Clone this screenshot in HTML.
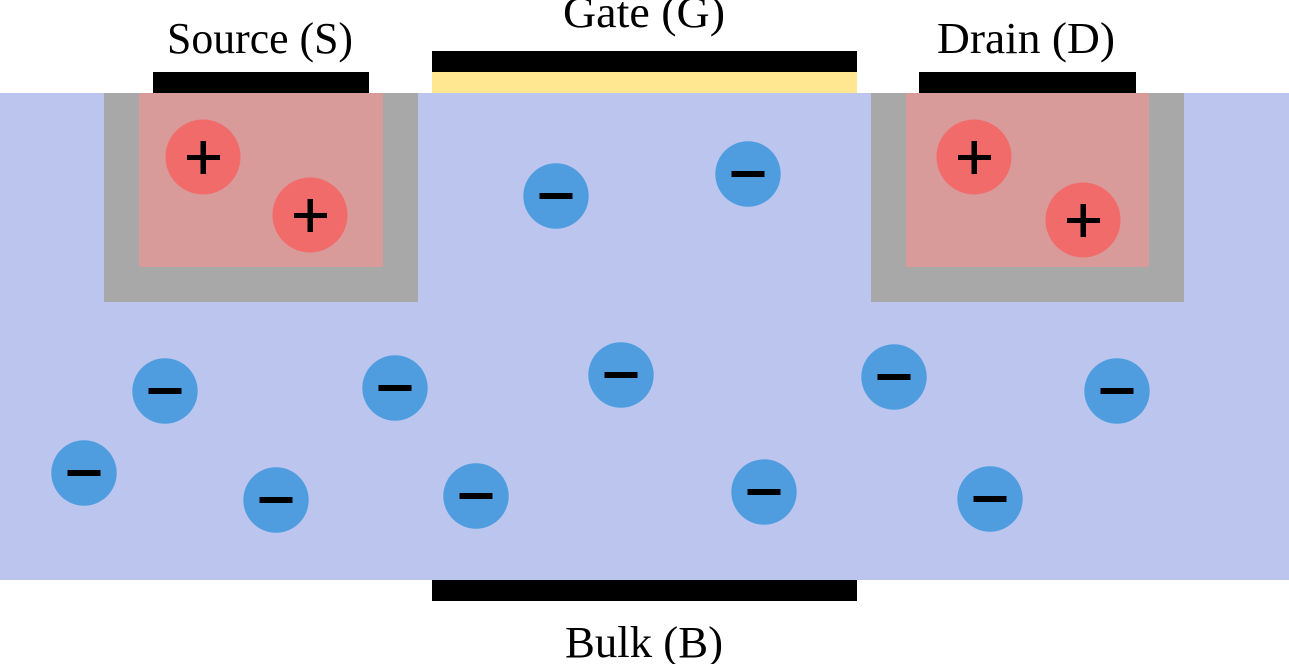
<!DOCTYPE html>
<html>
<head>
<meta charset="utf-8">
<style>
  html, body { margin: 0; padding: 0; background: #ffffff; }
  body { width: 1289px; height: 664px; overflow: hidden; }
  svg { display: block; }
  text { font-family: "Liberation Serif", serif; fill: #000; }
</style>
</head>
<body>
<svg width="1289" height="664" viewBox="0 0 1289 664" xmlns="http://www.w3.org/2000/svg">
  <!-- substrate -->
  <rect x="0" y="93" width="1289" height="487" fill="#bbc5ee"/>

  <!-- gate -->
  <rect x="432" y="51" width="425" height="21" fill="#000"/>
  <rect x="432" y="72" width="425" height="21" fill="#ffe792"/>

  <!-- bulk contact -->
  <rect x="432" y="580" width="425" height="21" fill="#000"/>

  <!-- source -->
  <rect x="104" y="93" width="314" height="209" fill="#a8a8a8"/>
  <rect x="139" y="93" width="244" height="174" fill="#d99a9a"/>
  <rect x="153" y="72" width="216" height="21" fill="#000"/>

  <!-- drain -->
  <rect x="871" y="93" width="313" height="209" fill="#a8a8a8"/>
  <rect x="906" y="93" width="243" height="174" fill="#d99a9a"/>
  <rect x="919" y="72" width="217" height="21" fill="#000"/>

  <!-- labels -->
  <text x="167" y="53" font-size="44" textLength="186" lengthAdjust="spacingAndGlyphs">Source (S)</text>
  <text x="563" y="27" font-size="44" textLength="162" lengthAdjust="spacingAndGlyphs">Gate (G)</text>
  <text x="937" y="53" font-size="44" textLength="178" lengthAdjust="spacingAndGlyphs">Drain (D)</text>
  <text x="565" y="657" font-size="44" textLength="158" lengthAdjust="spacingAndGlyphs">Bulk (B)</text>

  <!-- holes -->
  <g fill="#f26b6b">
    <circle cx="203" cy="157" r="37.5"/>
    <circle cx="310" cy="215" r="37.5"/>
    <circle cx="974" cy="157" r="37.5"/>
    <circle cx="1083" cy="220" r="37.5"/>
  </g>
  <g fill="#000">
    <rect x="187" y="155" width="33" height="5"/><rect x="200.5" y="141" width="5.5" height="33"/>
    <rect x="294" y="213" width="33" height="5"/><rect x="307.5" y="199" width="5.5" height="33"/>
    <rect x="958" y="155" width="33" height="5"/><rect x="971.5" y="141" width="5.5" height="33"/>
    <rect x="1067" y="218" width="33" height="5"/><rect x="1080.5" y="204" width="5.5" height="33"/>
  </g>

  <!-- electrons -->
  <g fill="#4f9ddf">
    <circle cx="556" cy="196" r="32.7"/>
    <circle cx="748" cy="174" r="32.7"/>
    <circle cx="165" cy="391" r="32.7"/>
    <circle cx="395" cy="388" r="32.7"/>
    <circle cx="84" cy="473" r="32.7"/>
    <circle cx="276" cy="500" r="32.7"/>
    <circle cx="621" cy="375" r="32.7"/>
    <circle cx="476" cy="496" r="32.7"/>
    <circle cx="764" cy="492" r="32.7"/>
    <circle cx="894" cy="377" r="32.7"/>
    <circle cx="1117" cy="391" r="32.7"/>
    <circle cx="990" cy="499" r="32.7"/>
  </g>
  <g fill="#000">
    <rect x="539.5" y="193" width="33" height="6"/>
    <rect x="731.5" y="171" width="33" height="6"/>
    <rect x="148.5" y="388" width="33" height="6"/>
    <rect x="378.5" y="385" width="33" height="6"/>
    <rect x="67.5" y="470" width="33" height="6"/>
    <rect x="259.5" y="497" width="33" height="6"/>
    <rect x="604.5" y="372" width="33" height="6"/>
    <rect x="459.5" y="493" width="33" height="6"/>
    <rect x="747.5" y="489" width="33" height="6"/>
    <rect x="877.5" y="374" width="33" height="6"/>
    <rect x="1100.5" y="388" width="33" height="6"/>
    <rect x="973.5" y="496" width="33" height="6"/>
  </g>
</svg>
</body>
</html>
